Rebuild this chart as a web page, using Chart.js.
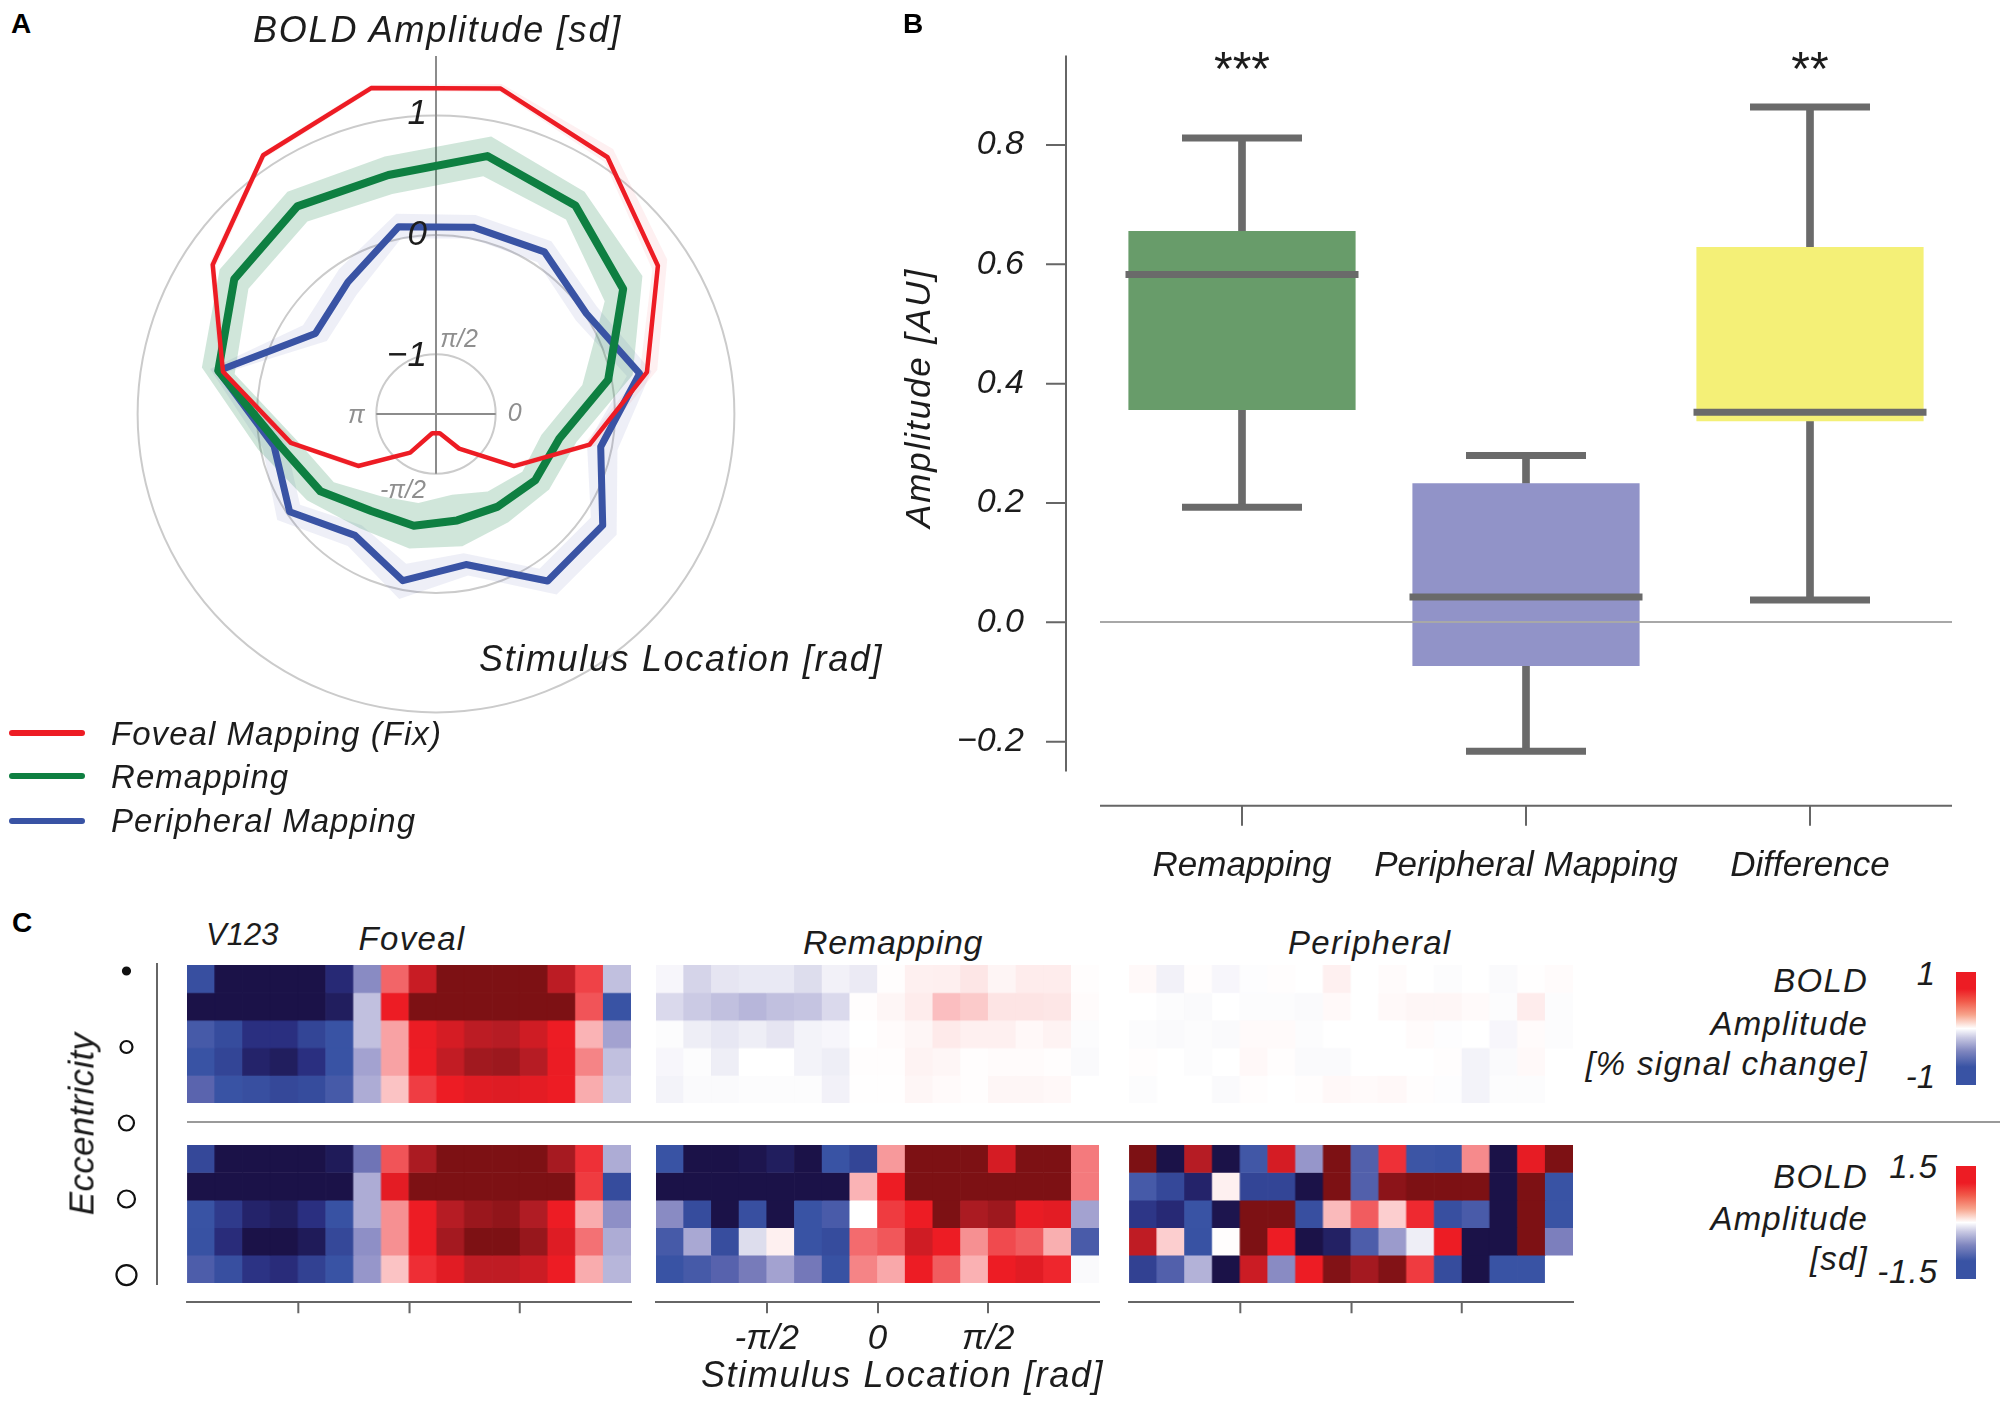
<!DOCTYPE html>
<html><head><meta charset="utf-8">
<script src="https://cdn.jsdelivr.net/npm/chart.js@4"></script>
<style>
html,body{margin:0;padding:0;background:#fff;width:2008px;height:1402px;overflow:hidden}
canvas{position:absolute}
.t{position:absolute;white-space:nowrap;font-family:"Liberation Sans",Arial,sans-serif;font-style:italic;line-height:1em;color:#1c1c1c}
.d{position:absolute}
</style></head><body>
<script>
// ---------- Panel A data (polar), starting 11.25 deg right of the top, clockwise
const angleLabels = ['0.44','0.83','1.22','1.62','2.0','2.4','2.8','3.2','3.6','4.0','4.4','4.8','5.2','5.6','6.0','6.4'];
const foveal      = [1.28,1.087,.736,.302,-.188,-.714,-1.151,-1.335,-1.335,-1.111,-.716,-.26,.32,.75,1.107,1.284];
const foveal_hi   = [1.32,1.17,.83,.39,-.14,-.68,-1.12,-1.31,-1.31,-1.08,-.68,-.22,.35,.78,1.13,1.31];
const foveal_lo   = [1.25,1.04,.68,.24,-.23,-.75,-1.18,-1.36,-1.36,-1.14,-.75,-.30,.29,.72,1.08,1.26];
const remap       = [.703,.602,.386,-.029,-.446,-.50,-.567,-.591,-.546,-.523,-.335,-.163,.36,.533,.592,.542];
const remap_hi    = [.87,.74,.58,.18,-.30,-.36,-.41,-.37,-.35,-.35,-.20,.02,.50,.68,.74,.70];
const remap_lo    = [.53,.46,.20,-.25,-.60,-.63,-.72,-.81,-.74,-.67,-.47,-.32,.22,.39,.44,.38];
const periph      = [.096,.134,.015,.24,-.093,.18,.183,-.214,-.076,-.277,-.025,-.117,.36,-.285,-.171,.10];
const periph_hi   = [.20,.24,.12,.34,.05,.32,.32,-.12,.08,-.17,.10,-.02,.43,-.16,-.04,.21];
const periph_lo   = [.0,.03,-.09,.13,-.21,.06,.06,-.31,-.22,-.38,-.13,-.22,.29,-.40,-.30,.0];
const radialTicks = [-1.5,-1,0,1];
const radialTickLabels = ['','\u22121','0','1'];

// ---------- Panel B data (box plot)
const boxCats  = ['Remapping','Peripheral Mapping','Difference'];
const boxQ1    = [.3557,-.0733,.337];
const boxQ3    = [.656,.233,.629];
const boxMed   = [.583,.0424,.352];
const boxLo    = [.193,-.216,.0376];
const boxHi    = [.8116,.2795,.8636];
const boxTicks = [-.2,0,.2,.4,.6,.8];

// ---------- Panel C data (values relative to the colour-bar limit)
const fovealTop = [
[-1.05,-2,-2,-2,-2,-1.6,-.6,.72,1.3,2,2,2,2,1.4,.85,-.35],
[-2,-2,-2,-2,-2,-1.8,-.35,1,2,2,2,2,2,2,.78,-1],
[-.92,-1.1,-1.5,-1.5,-1.2,-1,-.35,.52,1.02,1.2,1.4,1.45,1.25,1,.45,-.5],
[-1,-1.2,-1.7,-1.8,-1.5,-1,-.5,.52,1,1.35,1.65,1.7,1.45,1.02,.62,-.35],
[-.8,-1,-1.05,-1.15,-1.1,-.92,-.45,.38,.87,1,1.1,1.12,1.07,1,.48,-.3]];
const fovealBot = [
[-1.15,-2,-2,-2,-2,-1.85,-.7,.78,1.55,2,2,2,2,1.6,.92,-.45],
[-2,-2,-2,-2,-2,-2,-.45,1.07,2,2,2,2,2,2,.88,-1.1],
[-1,-1.35,-1.7,-1.8,-1.5,-1.02,-.45,.58,1,1.45,1.72,1.8,1.5,1,.48,-.58],
[-1.02,-1.55,-2,-2,-1.85,-1.15,-.58,.58,1,1.62,2,2,1.75,1.12,.68,-.45],
[-.88,-1.05,-1.45,-1.55,-1.25,-1,-.55,.38,.93,1.1,1.38,1.38,1.28,1,.48,-.4]];
const remapTop = [
[-.05,-.25,-.15,-.13,-.13,-.2,-.08,-.12,.02,.12,.13,.2,.08,.15,.15,.02],
[-.22,-.3,-.35,-.4,-.35,-.33,-.22,.02,.07,.15,.4,.35,.22,.22,.2,.03],
[-.02,-.1,-.14,-.1,-.15,-.07,-.05,0,.03,.07,.17,.12,.12,.06,.1,-.02],
[-.05,-.02,-.1,0,0,-.07,-.1,.02,.02,.1,.07,.02,.03,.03,.02,-.03],
[-.07,-.03,-.03,-.02,-.02,-.02,-.08,.01,.01,.07,.04,.02,.07,.07,.06,0]];
const remapBot = [
[-1,-2,-2,-1.95,-1.8,-2,-1,-1.2,.55,2,2,2,1.2,2,2,.65],
[-2,-2,-2,-2,-2,-2,-2,.45,1,2,2,2,2,2,2,.65],
[-.6,-1.1,-2,-1.05,-2,-1,-.9,0,.88,1,2,1.55,1.68,1.03,1.08,-.5],
[-.92,-.47,-1.08,-.2,.12,-1,-1.1,.7,.77,1.25,1,.58,.82,.75,.47,-.9],
[-1,-.92,-.82,-.67,-.5,-.68,-1.02,.62,.5,1,.75,.46,1,1.1,.96,-.03]];
const periphTop = [
[.05,-.08,.02,-.05,-.01,.02,0,.12,0,.03,0,-.02,0,-.03,.01,.03],
[0,-.02,-.03,0,-.02,-.02,-.03,.05,0,.05,.07,.07,.04,-.02,.15,-.02],
[-.02,-.03,-.02,-.03,.04,.04,-.02,0,0,0,.03,-.01,0,-.05,.03,-.02],
[.02,0,-.02,0,.06,.02,-.03,-.03,0,0,0,.02,-.07,-.03,.05,0],
[-.02,0,0,-.03,.02,0,.02,.06,.04,.06,.02,-.01,-.07,-.02,-.02,0]];
const periphBot = [
[2,-2,1.45,-2,-.95,1.2,-.55,2,-.85,.92,-.98,-1,.6,-2,1.05,2],
[-.92,-1.15,-1.7,.12,-1.2,-1.2,-2,2,-.85,1.85,2,2,2,-2,2,-1],
[-1.4,-1.6,-1,-1.95,2,2,-1.05,.42,.75,.33,.95,-1.05,-.9,-2,2,-1],
[1.38,.33,-1.02,.02,2,1,-2,-1.75,-.88,-.53,-.1,1,-2,-2,2,-.65],
[-1.25,-.85,-.42,-2,1.28,-.6,1,1.95,1.62,1.95,.88,-1.1,-2,-1,-1,0]];
const stimTicks = [-Math.PI/2,0,Math.PI/2];
const stimLabels = ['-\u03c0/2','0','\u03c0/2'];
const eccRows = [0,1,2,3,4];
const eccSizes = [3.5,6,7.5,8.5,10];

// ---------- Helpers
Chart.defaults.font.family = '"Liberation Sans",Arial,sans-serif';
Chart.defaults.animation = false;
Chart.defaults.responsive = false;
Chart.defaults.events = [];
Chart.defaults.plugins.legend.display = false;
Chart.defaults.plugins.tooltip.enabled = false;
const INK = '#1c1c1c', AXIS = '#666';

function mkCanvas(x,y,w,h){
  const c=document.createElement('canvas');c.width=w;c.height=h;
  c.style.cssText=`left:${x}px;top:${y}px;width:${w}px;height:${h}px`;
  document.body.appendChild(c);return c;
}
function text(t,x,y,size,o={}){
  const e=document.createElement('div');e.className='t';e.textContent=t;
  e.style.fontSize=size+'px';
  e.style.top=(y-0.8465*size)+'px';
  if(o.align==='right'){e.style.right=(2008-x)+'px';}
  else{e.style.left=x+'px';}
  if(o.align==='center'){e.style.transform='translateX(-50%)';}
  if(o.rot){e.style.top=y+'px';e.style.transform=`translate(-50%,-50%) rotate(${o.rot}deg)`;}
  if(o.bold){e.style.fontWeight='bold';e.style.fontStyle='normal';}
  if(o.color)e.style.color=o.color;
  if(o.ls)e.style.letterSpacing=o.ls+'px';
  document.body.appendChild(e);return e;
}
function box(x,y,w,h,style){
  const e=document.createElement('div');e.className='d';
  e.style.cssText=`left:${x}px;top:${y}px;width:${w}px;height:${h}px;`+style;
  document.body.appendChild(e);return e;
}

// ---------- Panel A
const polarAxes={id:'polarAxes',
  beforeDatasetsDraw(ch){
    const s=ch.scales.r,c=ch.ctx,cx=s.xCenter,cy=s.yCenter,r1=s.getDistanceFromCenterForValue(-1);
    c.save();c.strokeStyle='#8c8c8c';c.lineWidth=2;c.beginPath();
    c.moveTo(cx,cy-s.getDistanceFromCenterForValue(1.5));c.lineTo(cx,cy+r1);
    c.moveTo(cx-r1,cy);c.lineTo(cx+r1,cy);c.stroke();c.restore();
  },
  afterDatasetsDraw(ch){
    const s=ch.scales.r,c=ch.ctx,cx=s.xCenter,cy=s.yCenter;
    c.save();c.textBaseline='middle';
    c.font='italic 35px "Liberation Sans"';c.fillStyle=INK;c.textAlign='right';
    radialTicks.forEach((v,i)=>{ if(radialTickLabels[i]) c.fillText(radialTickLabels[i],cx-9,cy-s.getDistanceFromCenterForValue(v)+(v===-1?2:0)+ (v===1?-1:0)); });
    c.font='italic 25px "Liberation Sans"';c.fillStyle='#8f8f8f';
    const r1=s.getDistanceFromCenterForValue(-1);
    c.textAlign='center';
    c.fillText('\u03c0/2',cx+23,cy-r1+(-14));
    c.fillText('\u03c0',cx-r1-20,cy+2);
    c.fillText('0',cx+r1+19,cy);
    c.fillText('-\u03c0/2',cx-33,cy+r1+17);
    c.restore();
  }};
const ringFill=(data,target,color)=>({data,borderWidth:0,borderColor:'transparent',backgroundColor:color,fill:{target},pointRadius:0});
const ringEdge=(data)=>({data,borderWidth:0,borderColor:'transparent',fill:false,pointRadius:0});
const lineDs=(data,color,w)=>({data,borderColor:color,borderWidth:w,fill:false,pointRadius:0,borderJoinStyle:'round'});
new Chart(mkCanvas(66,44,740,740),{type:'radar',plugins:[polarAxes],
  data:{labels:angleLabels,datasets:[
    lineDs(foveal,'#ed1c24',4.5),
    lineDs(remap,'#0e7f41',8),
    lineDs(periph,'#3953a4',7),
    ringFill(foveal_hi,4,'rgba(240,40,50,0.07)'),
    ringEdge(foveal_lo),
    ringFill(remap_hi,6,'rgba(20,130,70,0.2)'),
    ringEdge(remap_lo),
    ringFill(periph_hi,8,'rgba(70,80,170,0.09)'),
    ringEdge(periph_lo)
  ]},
  options:{layout:{padding:0},elements:{line:{tension:0}},
    scales:{r:{min:-1.5,max:1.6,startAngle:11.25,
      afterBuildTicks(s){s.ticks=radialTicks.map(value=>({value}));},
      ticks:{display:false},
      pointLabels:{display:false},
      angleLines:{display:false},
      grid:{circular:true,lineWidth:2,color:ctx=>ctx.tick&&ctx.tick.value>-1.2?'#cbcbcb':'rgba(0,0,0,0)'}
    }}
  }});
text('A',11,34,28,{bold:true,color:'#000'});
text('BOLD Amplitude [sd]',253,42,36,{ls:1.8});
text('Stimulus Location [rad]',479,671,36,{ls:1.65});
[['#ed1c24',733,745,'Foveal Mapping (Fix)'],['#0e7f41',775.5,787.6,'Remapping'],['#3953a4',820.6,832,'Peripheral Mapping']].forEach(l=>{
  box(9,l[1]-3,76,6,`background:${l[0]};border-radius:3px`);
  text(l[3],111,l[2],33,{ls:1.05});
});

// ---------- Panel B
const boxAxes={id:'boxAxes',afterDraw(ch){
  const c=ch.ctx,a=ch.chartArea,y=ch.scales.y,x=ch.scales.x,ax=a.left-34;
  c.save();c.strokeStyle=AXIS;c.lineWidth=2;c.beginPath();
  c.moveTo(ax,a.top);c.lineTo(ax,a.bottom);
  boxTicks.forEach(v=>{const p=y.getPixelForValue(v);c.moveTo(ax-20,p);c.lineTo(ax,p);});
  const by=a.bottom+34.3;
  c.moveTo(a.left,by);c.lineTo(a.right,by);
  boxCats.forEach((_,i)=>{const p=x.getPixelForValue(i);c.moveTo(p,by);c.lineTo(p,by+20);});
  c.stroke();
  c.font='48px "Liberation Sans"';c.fillStyle=INK;c.textAlign='center';c.textBaseline='alphabetic';
  c.fillText('***',x.getPixelForValue(0),85);
  c.fillText('**',x.getPixelForValue(2),85);
  c.restore();
}};
const GR='#6a6a6a';
const pair=(a,b)=>a.map((v,i)=>[v,b[i]]);
const dash=(data,r,order)=>({type:'line',data,showLine:false,pointStyle:'line',pointRadius:r,pointBorderWidth:7,pointBorderColor:GR,order,clip:false});
new Chart(mkCanvas(880,0,1128,905),{type:'bar',plugins:[boxAxes],
  data:{labels:boxCats,datasets:[
    {data:pair(boxQ1,boxQ3),backgroundColor:['#689c6a','#9193c8','#f4f077'],barPercentage:.8,categoryPercentage:1,grouped:false,order:3},
    {data:pair(boxQ3,boxHi),backgroundColor:GR,barThickness:7,grouped:false,order:4},
    {data:pair(boxLo,boxQ1),backgroundColor:GR,barThickness:7,grouped:false,order:4},
    dash(boxMed,116.5,1),dash(boxHi,60,1),dash(boxLo,60,1)
  ]},
  options:{layout:{autoPadding:false,padding:{top:55.5,right:56,left:0,bottom:0}},
    scales:{
      x:{afterFit(s){s.height=133.5;s.paddingLeft=0;s.paddingRight=0;},border:{display:false},grid:{display:false,drawTicks:false},
         ticks:{padding:74,color:INK,maxRotation:0,autoSkip:false,font:{size:35,style:'italic'}}},
      y:{min:-.25,max:.95,afterFit(s){s.width=220;s.paddingTop=0;s.paddingBottom=0;},
         afterBuildTicks(s){s.ticks=boxTicks.map(value=>({value}));},
         border:{display:false},
         grid:{z:1,drawTicks:false,lineWidth:2,color:c=>c.tick&&Math.abs(c.tick.value)<1e-9?'#a8a8a8':'rgba(0,0,0,0)'},
         ticks:{padding:76,color:INK,font:{size:34,style:'italic'},
           callback:v=>(v<-1e-9?'\u2212':'')+Math.abs(v).toFixed(1)}}
    }}
});
text('B',903,34,28,{bold:true,color:'#000'});
text('Amplitude [AU]',917,398,35,{rot:-90,ls:1.9});

// ---------- Panel C
const rgb=h=>[1,3,5].map(i=>parseInt(h.substr(i,2),16));
const negStops=[[0,'#ffffff'],[.25,'#d5d4e9'],[.5,'#a3a2d0'],[.75,'#6268b0'],[1,'#3953a4'],[1.5,'#2a2f80'],[2,'#1b1248']];
const posStops=[[0,'#ffffff'],[.25,'#fde0e0'],[.5,'#f9a8aa'],[.75,'#f15c5f'],[1,'#ed1c24'],[1.5,'#b01c24'],[2,'#7d1114']];
function cellColor(v){
  const st=v<0?negStops:posStops,a=Math.min(2,Math.abs(v));
  for(let i=1;i<st.length;i++){ if(a<=st[i][0]){
    const f=(a-st[i-1][0])/(st[i][0]-st[i-1][0]),p=rgb(st[i-1][1]),q=rgb(st[i][1]);
    return `rgb(${p.map((u,k)=>Math.round(u+(q[k]-u)*f)).join(',')})`;}}
  return st[st.length-1][1];
}
const colTheta=i=>-Math.PI+(i+.5)*Math.PI/8;
function heat(matrix,left,top,width,withAxis,withLabels){
  const rowH=137.7/5, extra=withAxis?19.6:0, h=137.7+extra;
  const pad=withAxis?2:0;
  const cv=mkCanvas(left-pad,top,width+2*pad,withAxis?(1402-top):h);
  new Chart(cv,{type:'bar',
    data:{datasets:matrix.map((row,r)=>({
      data:row.map((v,i)=>({x:colTheta(i),y:[r,r+1]})),
      backgroundColor:row.map(cellColor),borderWidth:0,
      barPercentage:1,categoryPercentage:1,grouped:false}))},
    options:{layout:{autoPadding:false,padding:{left:pad,right:pad,top:0,bottom:0}},
      scales:{
        x:{type:'linear',offset:false,min:-Math.PI,max:Math.PI,display:withAxis,
          afterBuildTicks(s){s.ticks=stimTicks.map(value=>({value}));},
          afterFit(s){ if(withAxis) s.height=1402-top-h; },
          border:{display:true,color:AXIS,width:2},
          grid:{offset:false,drawOnChartArea:false,tickLength:11,color:AXIS,lineWidth:2},
          ticks:{display:withLabels,padding:5,color:INK,maxRotation:0,autoSkip:false,
            font:{size:35,style:'italic'},callback:(v,i)=>stimLabels[i]}},
        y:{type:'linear',reverse:true,min:0,max:5+extra/rowH,display:false}
      }}
  });
}
heat(fovealTop,187,965,443.6,false,false);
heat(fovealBot,187,1145,443.6,true,false);
heat(remapTop,655.7,965,443.6,false,false);
heat(remapBot,655.7,1145,443.6,true,true);
heat(periphTop,1129,965,443.6,false,false);
heat(periphBot,1129,1145,443.6,true,false);

new Chart(mkCanvas(100,955,60,340),{type:'scatter',
  data:{datasets:[{data:eccRows.map(y=>({x:.467,y})),pointRadius:eccSizes,pointBorderWidth:2.2,
    pointBorderColor:'#111',pointBackgroundColor:['#111','#fff','#fff','#fff','#fff'],clip:false}]},
  options:{layout:{autoPadding:false,padding:{top:9,bottom:11,right:3.3,left:0}},
    scales:{x:{min:0,max:1,display:false},
      y:{reverse:true,min:-.092,max:4.118,position:'right',afterFit(s){s.width=0;},
        ticks:{display:false},grid:{display:false,drawTicks:false},border:{display:true,color:AXIS,width:2}}}}
});

box(187,1120.7,1813,2,'background:#9a9a9a');
text('C',12,933,28,{bold:true,color:'#000'});
text('V123',206,945,31);
text('Foveal',358.6,950,33,{ls:1.3});
text('Remapping',803,954,34,{ls:.7});
text('Peripheral',1288,954,33,{ls:1.3});
text('Eccentricity',81,1124,35,{rot:-90,ls:.3});
text('Stimulus Location [rad]',701,1387,36,{ls:1.6});

const cbGrad='linear-gradient(to bottom,#ed1c24 0,#ed1c24 15%,#f15a4a 26%,#f7a48c 38%,#ffffff 50%,#c9c9e3 58%,#7f86bf 70%,#3953a4 84%,#3953a4 100%)';
box(1955.7,971.7,20,113.3,'background:'+cbGrad);
box(1955.7,1166,20,113.3,'background:'+cbGrad);
text('BOLD',1868,992,33,{align:'right',ls:1.2});
text('Amplitude',1868,1035,33,{align:'right',ls:1.2});
text('[% signal change]',1868,1075,33,{align:'right',ls:1.3});
text('1',1935,985,33,{align:'right'});
text('-1',1935,1088,33,{align:'right'});
text('BOLD',1868,1188,33,{align:'right',ls:1.2});
text('Amplitude',1868,1230,33,{align:'right',ls:1.2});
text('[sd]',1868,1270,33,{align:'right',ls:1.2});
text('1.5',1938,1178,33,{align:'right',ls:1});
text('-1.5',1938,1283,33,{align:'right',ls:1});
</script>
</body></html>
